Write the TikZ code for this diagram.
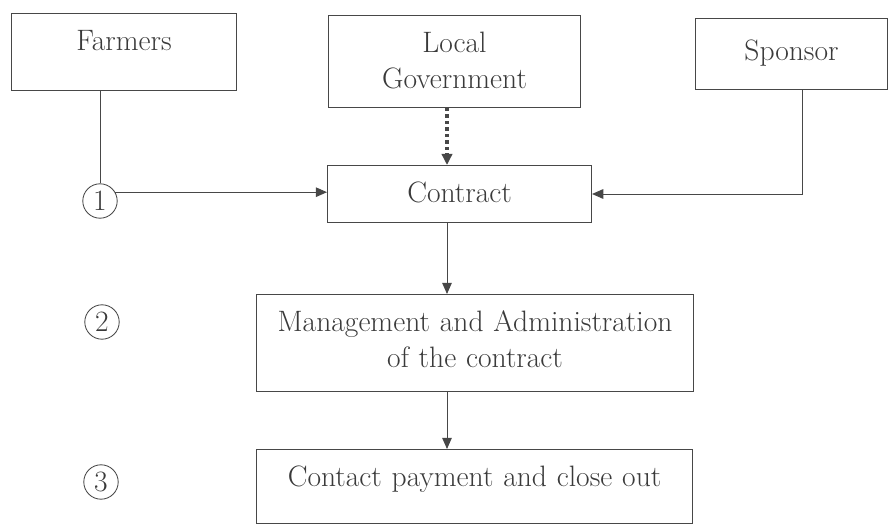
\documentclass[tikz,border=0pt]{standalone}
\usepackage{tikz}
\usetikzlibrary{arrows.meta,calc}
\definecolor{ink}{HTML}{3A3A3A}
\definecolor{pen}{HTML}{474747}
\tikzset{
  stage/.style={draw=pen,line width=0.7pt,anchor=north west,align=center,
    inner sep=0pt,text height=0.92cm,text=ink,
    font=\fontsize{21}{26}\selectfont},
  num/.style={draw=pen,circle,line width=0.6pt,minimum size=0.86cm,
    inner sep=0pt,text=ink,font=\fontsize{21}{22}\selectfont},
  arr/.style={-{Triangle[length=2.8mm,width=2.4mm]},line width=0.7pt,draw=pen},
  dotarr/.style={-{Triangle[length=2.8mm,width=2.6mm]},line width=2.2pt,
    draw=pen,dash pattern=on 2.4pt off 2.2pt}
}
\begin{document}
\begin{tikzpicture}[x=0.025cm,y=-0.025cm]
  \useasboundingbox (0,0) rectangle (888,524);
  \node[stage,text width=5.625cm,text depth=1.005cm] (farmers) at (11,13) {Farmers};
  \node[stage,text width=6.3cm,text depth=1.38cm] (locgov) at (328,15) {Local\\Government};
  \node[stage,text width=4.8cm,text height=1.045cm,text depth=0.73cm] (sponsor) at (695,18) {Sponsor};
  \node[stage,text width=6.6cm,text depth=0.505cm] (contract) at (327,165) {Contract};
  \node[stage,text width=10.925cm,text depth=1.505cm] (mgmt) at (256,294)
    {Management and Administration\\of the contract};
  \node[stage,text width=10.9cm,text depth=0.93cm] (contact) at (256,449)
    {Contact payment and close out};
  \node[num] (c1) at (100,201) {1};
  \node[num] (c2) at (102,322) {2};
  \node[num] (c3) at (101,482) {3};
  \coordinate (spine) at (447,0);
  \draw[pen,line width=0.7pt] (farmers.south -| c1) -- (c1.north);
  \draw[arr] (c1.30) -- (c1.30 -| contract.west);
  \draw[dotarr] (locgov.south -| spine) -- (contract.north -| spine);
  \draw[arr] ([xshift=0.275cm]sponsor.south) |- (contract.east);
  \draw[arr] (contract.south -| spine) -- (mgmt.north -| spine);
  \draw[arr] (mgmt.south -| spine) -- (contact.north -| spine);
\end{tikzpicture}
\end{document}
